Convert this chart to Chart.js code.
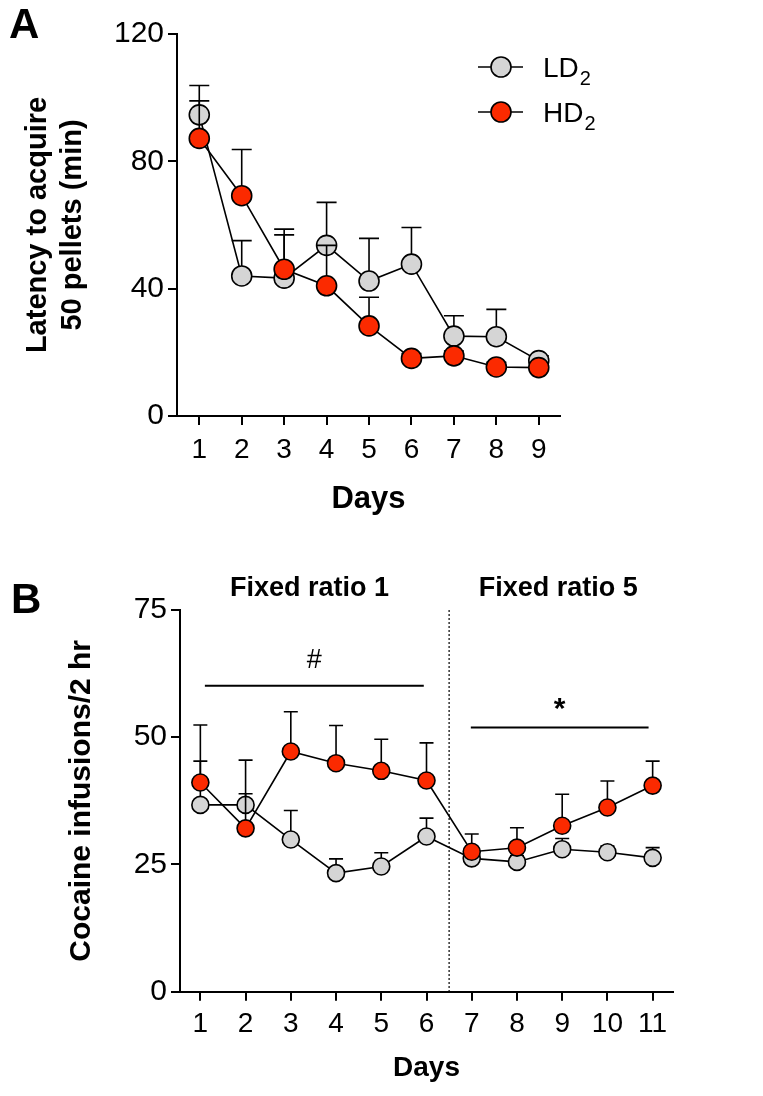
<!DOCTYPE html>
<html>
<head>
<meta charset="utf-8">
<script src="https://cdn.jsdelivr.net/npm/chart.js@4.4.1/dist/chart.umd.min.js"></script>
<style>
  body { margin: 0; background: #fff; }
  canvas { position: absolute; left: 0; }
  #chartA { top: 0; }
  #chartB { top: 545px; }
</style>
</head>
<body>
<canvas id="chartA" width="763" height="545"></canvas>
<canvas id="chartB" width="763" height="551"></canvas>
<script>
// Panel A - latency to acquire 50 pellets
const daysA = [1, 2, 3, 4, 5, 6, 7, 8, 9];
const ldLatency = [94.6, 44.0, 43.3, 53.6, 42.4, 47.7, 25.1, 24.9, 17.4];
const ldLatencySem = [9.2, 11.1, 13.6, 13.5, 13.4, 11.5, 6.4, 8.6, 1.5];
const hdLatency = [87.2, 69.2, 46.1, 40.9, 28.3, 18.1, 18.9, 15.4, 15.2];
const hdLatencySem = [11.8, 14.5, 12.6, 12.7, 9.0, 1.5, 1.5, 1.5, 1.5];
const ticksA = [0, 40, 80, 120];

// Panel B - cocaine infusions
const daysB = [1, 2, 3, 4, 5, 6, 7, 8, 9, 10, 11];
const ldInfusions = [36.7, 36.7, 29.9, 23.3, 24.6, 30.5, 26.2, 25.5, 28.0, 27.4, 26.3];
const ldInfusionsSem = [8.6, 2.2, 5.7, 2.8, 2.7, 3.6, 1.2, 1.2, 2.1, 1.2, 2.0];
const hdInfusions = [41.1, 32.1, 47.2, 44.9, 43.4, 41.5, 27.5, 28.3, 32.6, 36.2, 40.5];
const hdInfusionsSem = [11.3, 13.4, 7.8, 7.4, 6.2, 7.4, 3.5, 3.9, 6.2, 5.2, 4.8];
const ticksB = [0, 25, 50, 75];

const phaseSplit = 6.5;
const phases = [
  { label: 'Fixed ratio 1', from: 0.5, to: 6.5 },
  { label: 'Fixed ratio 5', from: 6.5, to: 11.5 }
];
const sigBars = [
  { from: 1.1, to: 5.94, y: 60.1, mark: '#', bold: false },
  { from: 6.98, to: 10.91, y: 51.9, mark: '*', bold: true }
];

const GRAY = '#d5d5d5';
const RED = '#fb2a00';
const FONT = "'Liberation Sans', Arial, Helvetica, sans-serif";
Chart.defaults.font.family = FONT;
Chart.defaults.color = '#000';

const toPoints = (xs, ys) => xs.map((x, i) => ({ x: x, y: ys[i] }));

// error bars (upward only), drawn just before each dataset
const errorBars = {
  id: 'errorBars',
  beforeDatasetDraw(chart, args, opts) {
    const ds = chart.data.datasets[args.index];
    if (!ds.errors) return;
    const ctx = chart.ctx;
    const yScale = chart.scales.y;
    ctx.save();
    ctx.strokeStyle = '#000';
    ctx.lineWidth = 1.6;
    args.meta.data.forEach((pt, i) => {
      const top = yScale.getPixelForValue(ds.data[i].y + ds.errors[i]);
      ctx.beginPath();
      ctx.moveTo(pt.x, pt.y);
      ctx.lineTo(pt.x, top);
      ctx.moveTo(pt.x - opts.cap, top);
      ctx.lineTo(pt.x + opts.cap, top);
      ctx.stroke();
    });
    ctx.restore();
  }
};

// panel letter
const panelLetter = {
  id: 'panelLetter',
  afterDraw(chart, args, opts) {
    const ctx = chart.ctx;
    ctx.save();
    ctx.font = 'bold 42px ' + FONT;
    ctx.fillStyle = '#000';
    ctx.textBaseline = 'alphabetic';
    ctx.fillText(opts.text, opts.x, opts.y);
    ctx.restore();
  }
};

// legend with subscripts (panel A)
const subLegend = {
  id: 'subLegend',
  afterDraw(chart, args, opts) {
    if (!opts.items) return;
    const ctx = chart.ctx;
    ctx.save();
    opts.items.forEach((item, i) => {
      const y = opts.y + i * opts.gap;
      ctx.strokeStyle = '#000';
      ctx.lineWidth = 1.6;
      ctx.beginPath();
      ctx.moveTo(opts.x - 23, y);
      ctx.lineTo(opts.x + 22, y);
      ctx.stroke();
      ctx.beginPath();
      ctx.arc(opts.x, y, 10, 0, Math.PI * 2);
      ctx.fillStyle = item.color;
      ctx.fill();
      ctx.stroke();
      ctx.fillStyle = '#000';
      ctx.textBaseline = 'alphabetic';
      ctx.font = '28px ' + FONT;
      ctx.fillText(item.text, opts.x + 42, y + 10);
      const w = ctx.measureText(item.text).width;
      ctx.font = '20px ' + FONT;
      ctx.fillText(item.sub, opts.x + 43 + w, y + 18);
    });
    ctx.restore();
  }
};

// panel B extras: phase divider, phase headers, significance bars
const phaseMarks = {
  id: 'phaseMarks',
  afterDraw(chart) {
    const ctx = chart.ctx;
    const xs = chart.scales.x, ys = chart.scales.y;
    const area = chart.chartArea;
    ctx.save();
    // dotted divider
    const xd = xs.getPixelForValue(phaseSplit);
    ctx.strokeStyle = '#000';
    ctx.lineWidth = 1.2;
    ctx.setLineDash([2, 2]);
    ctx.beginPath();
    ctx.moveTo(xd, area.top);
    ctx.lineTo(xd, area.bottom);
    ctx.stroke();
    ctx.setLineDash([]);
    // headers
    ctx.fillStyle = '#000';
    ctx.textAlign = 'center';
    ctx.textBaseline = 'middle';
    ctx.font = 'bold 27px ' + FONT;
    phases.forEach(p => {
      const cx = (xs.getPixelForValue(p.from) + xs.getPixelForValue(p.to)) / 2 - 4;
      ctx.fillText(p.label, cx, area.top - 21);
    });
    // significance bars
    ctx.lineWidth = 2;
    sigBars.forEach(s => {
      const x1 = xs.getPixelForValue(s.from), x2 = xs.getPixelForValue(s.to);
      const y = ys.getPixelForValue(s.y);
      ctx.beginPath();
      ctx.moveTo(x1, y);
      ctx.lineTo(x2, y);
      ctx.stroke();
      ctx.font = (s.bold ? 'bold 30px ' : '27px ') + FONT;
      ctx.fillText(s.mark, (x1 + x2) / 2, s.bold ? y - 18 : y - 25);
    });
    ctx.restore();
  }
};

const seriesStyle = (color, radius) => ({
  borderColor: '#000',
  borderWidth: 1.6,
  pointRadius: radius,
  pointHoverRadius: radius,
  pointBackgroundColor: color,
  pointBorderColor: '#000',
  pointBorderWidth: 1.6,
  tension: 0,
  clip: false
});

const axisX = (min, max, ticks, height, tickPad, titleSize, titlePad) => ({
  type: 'linear',
  min: min,
  max: max,
  afterBuildTicks: s => { s.ticks = ticks.map(v => ({ value: v })); },
  afterFit: s => { s.height = height; },
  border: { color: '#000', width: 2 },
  grid: { drawOnChartArea: false, color: '#000', lineWidth: 2, tickLength: 9 },
  ticks: { color: '#000', font: { size: 28 }, padding: tickPad, autoSkip: false, maxRotation: 0 },
  title: { display: true, text: 'Days', color: '#000', font: { size: titleSize, weight: 'bold' }, padding: { top: 0, bottom: titlePad } }
});

const axisY = (max, ticks, width, title, titleSize, titlePad, lineHeight) => ({
  min: 0,
  max: max,
  afterBuildTicks: s => { s.ticks = ticks.map(v => ({ value: v })); },
  afterFit: s => { s.width = width; },
  border: { color: '#000', width: 2 },
  grid: { drawOnChartArea: false, color: '#000', lineWidth: 2, tickLength: 9 },
  ticks: { color: '#000', font: { size: 30 }, padding: 4 },
  title: { display: true, text: title, color: '#000', font: { size: titleSize, weight: 'bold', lineHeight: lineHeight }, padding: { top: titlePad, bottom: 0 } }
});

new Chart(document.getElementById('chartA'), {
  type: 'line',
  data: {
    datasets: [
      Object.assign({ label: 'LD2', data: toPoints(daysA, ldLatency), errors: ldLatencySem, order: 2 }, seriesStyle(GRAY, 10)),
      Object.assign({ label: 'HD2', data: toPoints(daysA, hdLatency), errors: hdLatencySem, order: 1 }, seriesStyle(RED, 10))
    ]
  },
  options: {
    responsive: false,
    animation: false,
    layout: { padding: { left: 0, top: 34, right: 203, bottom: 0 } },
    scales: {
      x: axisX(0.475, 9.5, daysA, 129, 8, 31, 27),
      y: axisY(120, ticksA, 177, ['Latency to acquire', '50 pellets (min)'], 29, 21, 1.2)
    },
    plugins: {
      legend: { display: false },
      tooltip: { enabled: false },
      errorBars: { cap: 10 },
      panelLetter: { text: 'A', x: 9, y: 38 },
      subLegend: {
        x: 501, y: 67, gap: 45,
        items: [{ text: 'LD', sub: '2', color: GRAY }, { text: 'HD', sub: '2', color: RED }]
      }
    }
  },
  plugins: [errorBars, panelLetter, subLegend]
});

new Chart(document.getElementById('chartB'), {
  type: 'line',
  data: {
    datasets: [
      Object.assign({ label: 'LD2', data: toPoints(daysB, ldInfusions), errors: ldInfusionsSem, order: 2 }, seriesStyle(GRAY, 8.5)),
      Object.assign({ label: 'HD2', data: toPoints(daysB, hdInfusions), errors: hdInfusionsSem, order: 1 }, seriesStyle(RED, 8.5))
    ]
  },
  options: {
    responsive: false,
    animation: false,
    layout: { padding: { left: 0, top: 65, right: 90, bottom: 0 } },
    scales: {
      x: axisX(0.55, 11.45, daysB, 104.3, 7, 28, 11),
      y: axisY(75, ticksB, 180, 'Cocaine infusions/2 hr', 30, 64, 1.2)
    },
    plugins: {
      legend: { display: false },
      tooltip: { enabled: false },
      errorBars: { cap: 7 },
      panelLetter: { text: 'B', x: 11, y: 68 }
    }
  },
  plugins: [errorBars, panelLetter, phaseMarks]
});
</script>
</body>
</html>
